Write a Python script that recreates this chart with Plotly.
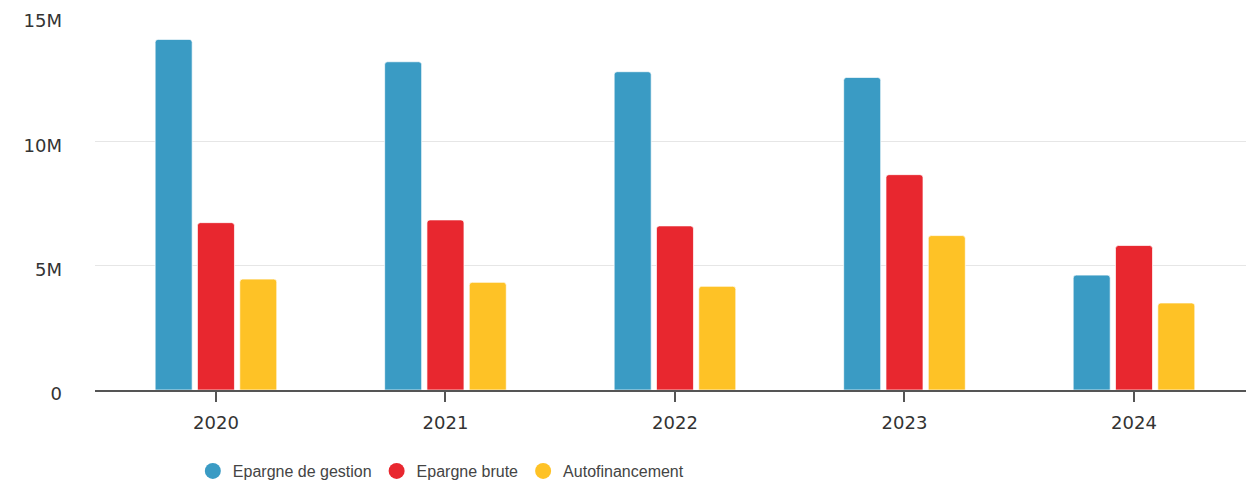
import plotly.graph_objects as go

years = ["2020", "2021", "2022", "2023", "2024"]
epargne_gestion = [14.10e6, 13.20e6, 12.80e6, 12.57e6, 4.62e6]
epargne_brute = [6.73e6, 6.84e6, 6.60e6, 8.66e6, 5.81e6]
autofinancement = [4.46e6, 4.33e6, 4.17e6, 6.21e6, 3.50e6]
series_names = ["Epargne de gestion", "Epargne brute", "Autofinancement"]
colors = ["#3a9bc4", "#e8272f", "#fec226"]
y_tickvals = [0, 5e6, 10e6, 15e6]
y_ticktext = ["0", "5M", "10M", "15M"]

fig = go.Figure()
for name, vals, col in zip(series_names, [epargne_gestion, epargne_brute, autofinancement], colors):
    fig.add_trace(go.Bar(
        x=years, y=vals, name=name, showlegend=False,
        marker=dict(color=col, line=dict(color="rgba(255,255,255,0.7)", width=1)),
    ))
for name, col in zip(series_names, colors):
    fig.add_trace(go.Scatter(
        x=[None], y=[None], mode="markers", name=name,
        marker=dict(symbol="circle", size=17, color=col),
    ))

fig.update_layout(
    width=1246, height=483,
    margin=dict(l=95, r=0, t=17, b=93),
    paper_bgcolor="white", plot_bgcolor="white",
    font=dict(family="Liberation Sans, Arial, sans-serif", size=16, color="#444"),
    barmode="group", bargap=0.447, bargroupgap=0.125, barcornerradius=3,
    showlegend=True,
    legend=dict(
        orientation="h", x=0.085, xanchor="left",
        yref="container", y=0.0248, yanchor="middle",
        font=dict(size=16, color="#444"), itemclick=False,
    ),
    xaxis=dict(
        type="category", range=[-0.527, 4.488],
        showline=True, linecolor="#555", linewidth=2,
        ticks="outside", ticklen=10, tickwidth=2, tickcolor="#555",
        ticklabelstandoff=5,
        showgrid=False, tickfont=dict(family="DejaVu Sans", size=18, color="#333"),
    ),
    yaxis=dict(
        range=[0, 15e6], tickvals=y_tickvals, ticktext=y_ticktext,
        showgrid=True, gridcolor="#e6e6e6", gridwidth=1, zeroline=False,
        ticks="", ticklabelstandoff=32, ticklabelshift=4,
        tickfont=dict(family="DejaVu Sans", size=18, color="#333"),
    ),
)

fig.write_html(
    "out.html",
    config={"displayModeBar": False},
    post_script="document.body.style.margin='0';document.body.style.overflow='hidden';",
)
